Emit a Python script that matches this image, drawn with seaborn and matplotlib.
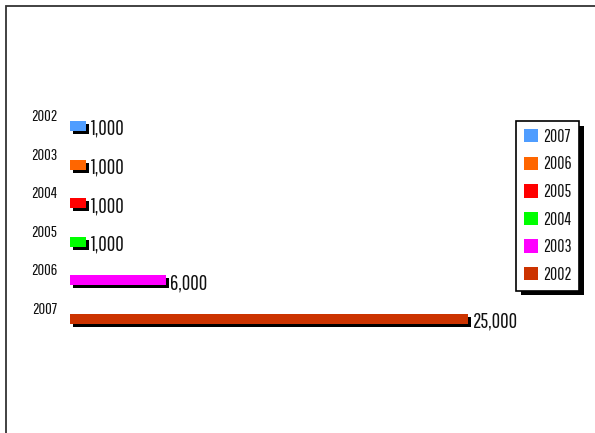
import matplotlib
matplotlib.use("Agg")
import matplotlib.pyplot as plt
import matplotlib.patheffects as pe
import matplotlib.transforms as mtransforms
from matplotlib.patches import Rectangle
import pandas as pd
import seaborn as sns

# Chart data
years = ["2002", "2003", "2004", "2005", "2006", "2007"]
values = [1000, 1000, 1000, 1000, 6000, 25000]
series_labels = ["2007", "2006", "2005", "2004", "2003", "2002"]
series_colors = ["#4f9dff", "#ff6600", "#ff0000", "#00ff00", "#ff00ff", "#cc3300"]

df = pd.DataFrame({"year": years, "value": values, "series": series_labels})

sns.set_theme(style="white")
FONT = ["Pathway Gothic One", "DejaVu Sans"]
plt.rcParams["font.family"] = FONT

W, H = 595, 433
fig = plt.figure(figsize=(W / 100, H / 100), dpi=100)

# axes placed in pixel units
left_px, right_px, top_px, bottom_px = 70, 500, 100.9, 344.1
ax = fig.add_axes([left_px / W, 1 - bottom_px / H,
                   (right_px - left_px) / W, (bottom_px - top_px) / H])

sns.barplot(data=df, x="value", y="year", hue="series",
            hue_order=series_labels, palette=series_colors,
            orient="h", dodge=False, width=0.26, saturation=1,
            linewidth=0, ax=ax)

shadow = [pe.SimplePatchShadow(offset=(2.2, -2.2), shadow_rgbFace="black", alpha=1),
          pe.Normal()]
for patch in ax.patches:
    patch.set_path_effects(shadow)

ax.set_xlim(0, 25000 * (right_px - left_px) / 398)
ax.set_ylim(5.65, -0.65)
ax.set_xticks([])
ax.set_xlabel("")
ax.set_ylabel("")
for s in ax.spines.values():
    s.set_visible(False)

# category labels sit above-left of each bar
ax.tick_params(axis="y", length=0, pad=9, labelsize=11.8, labelcolor="#111111")
offset = mtransforms.ScaledTranslation(0, 11 / 100, fig.dpi_scale_trans)
for lab in ax.get_yticklabels():
    lab.set_transform(lab.get_transform() + offset)
    lab.set_family(FONT)

# value labels at the bar ends
for i, v in enumerate(values):
    ax.annotate(f"{v:,}", xy=(v, i), xytext=(3.5, -2), textcoords="offset points",
                ha="left", va="center", fontsize=15, color="#111111", family=FONT)

leg = ax.legend(loc="upper left", bbox_to_anchor=((516 - left_px) / (right_px - left_px),
                                                    1 - (121 - top_px) / (bottom_px - top_px)),
                frameon=True, fancybox=False, handlelength=0.8,
                handleheight=0.8, handletextpad=0.28, labelspacing=0.66,
                borderpad=0.45, borderaxespad=0, prop={"family": FONT, "size": 12.6})
for h in leg.legend_handles:
    h.set_path_effects([])
frame = leg.get_frame()
frame.set_edgecolor("black")
frame.set_linewidth(1.2)
frame.set_facecolor("white")
frame.set_alpha(1)
frame.set_path_effects([pe.SimplePatchShadow(offset=(3.5, -3.5), shadow_rgbFace="black", alpha=1),
                        pe.Normal()])
for t in leg.get_texts():
    t.set_color("#111111")

# outer frame along the top and left edges
fig.add_artist(Rectangle((6 / W, -0.1), 1.1, (H - 6) / H + 0.1,
                         transform=fig.transFigure, fill=False,
                         edgecolor="#333333", linewidth=1.3))

fig.savefig("out.png", dpi=100, facecolor="white")
